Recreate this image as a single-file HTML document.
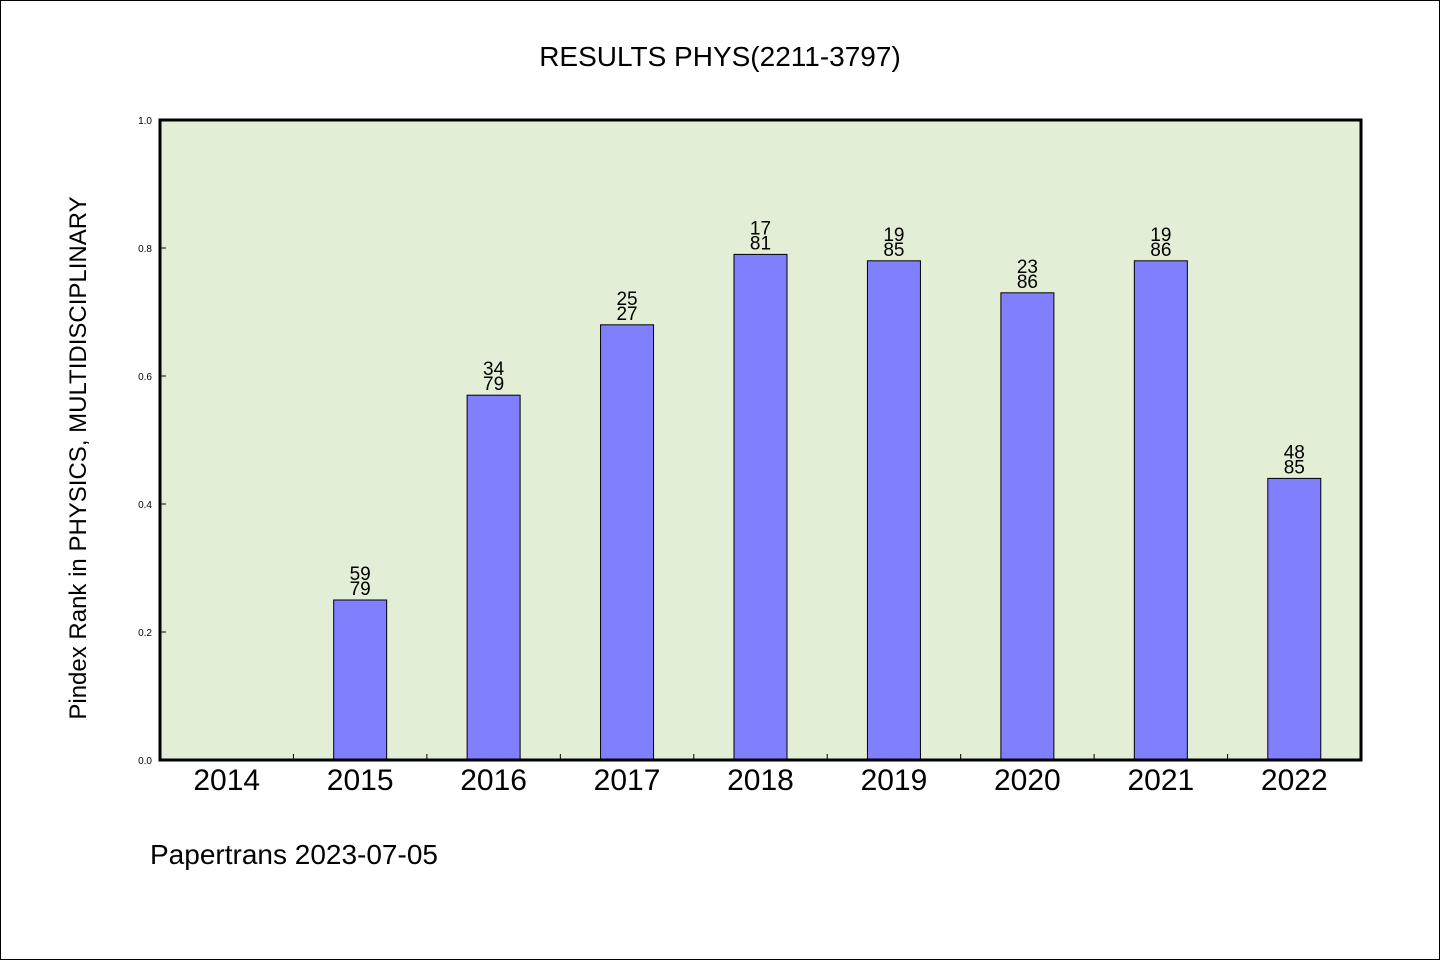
<!DOCTYPE html>
<html><head><meta charset="utf-8"><style>
body{margin:0;background:#fff}
svg{display:block;font-family:"WenQuanYi Zen Hei","Liberation Sans",sans-serif}
</style></head><body>
<svg width="1440" height="960" viewBox="0 0 1440 960">
<rect x="0.5" y="0.5" width="1439" height="959" fill="#fff" stroke="#000"/>
<text x="720" y="66" text-anchor="middle" font-size="28">RESULTS PHYS(2211-3797)</text>
<rect x="160" y="120" width="1201" height="640" fill="#e2efd6"/>
<g id="bars"></g>
<g id="axes"></g>
<rect x="160" y="120" width="1201" height="640" fill="none" stroke="#000" stroke-width="3"/>
<text transform="translate(86,458) rotate(-90)" text-anchor="middle" font-size="24">Pindex Rank in PHYSICS, MULTIDISCIPLINARY</text>
<text x="150" y="864" font-size="28">Papertrans 2023-07-05</text>
<script>
const categories=["2014","2015","2016","2017","2018","2019","2020","2021","2022"];
const values=[null,0.25,0.57,0.68,0.79,0.78,0.73,0.78,0.44];
const topLabels=["","59","34","25","17","19","23","19","48"];
const bottomLabels=["","79","79","27","81","85","86","86","85"];
const yTicks=[0,0.2,0.4,0.6,0.8,1.0];
const X0=160,W=1201,Y0=760,H=640,NS="http://www.w3.org/2000/svg";
const step=W/categories.length;
const xc=i=>X0+step*(i+0.5);
const y=v=>Y0-v*H;
const bars=document.getElementById('bars'),axes=document.getElementById('axes');
function mk(tag,attrs,parent,txt){const e=document.createElementNS(NS,tag);for(const k in attrs)e.setAttribute(k,attrs[k]);if(txt!==undefined)e.textContent=txt;parent.appendChild(e);return e;}
categories.forEach((c,i)=>{
  const lab=mk('text',{x:xc(i),y:790,'text-anchor':'middle','font-size':30},axes,c);
  
  
  if(i>0){const t=mk('line',{x1:X0+step*i,x2:X0+step*i,y1:Y0,y2:Y0-6,stroke:'#000'},axes);
    
    }
  const v=values[i];
  if(v==null)return;
  const b=mk('rect',{x:xc(i)-26.5,y:y(v),width:53,height:Y0-y(v),fill:'#8080ff',stroke:'#000','stroke-width':1},bars);
  
  
  const t1=mk('text',{x:xc(i),y:y(v)-20,'text-anchor':'middle','font-size':19},bars,topLabels[i]);
  
  
  const t2=mk('text',{x:xc(i),y:y(v)-5,'text-anchor':'middle','font-size':19},bars,bottomLabels[i]);
  
  
});
yTicks.forEach(v=>{
  const l=mk('text',{x:152,y:y(v)+4,'text-anchor':'end','font-size':10,'font-family':'Liberation Sans, sans-serif'},axes,v.toFixed(1));
  
  
  const t=mk('line',{x1:X0,x2:X0+6,y1:y(v),y2:y(v),stroke:'#000'},axes);
  
  
});
</script>
</svg>
</body></html>
